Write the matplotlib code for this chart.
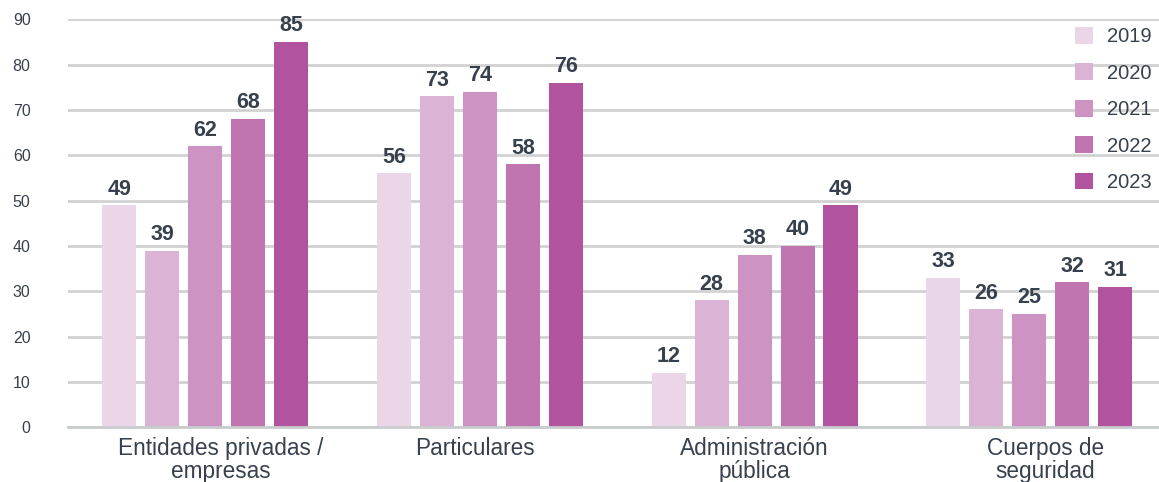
import matplotlib.pyplot as plt
import matplotlib.transforms as mtransforms
import numpy as np

plt.rcParams['font.family'] = ['Liberation Sans', 'DejaVu Sans']

categories = ['Entidades privadas /\nempresas', 'Particulares',
              'Administración\npública', 'Cuerpos de\nseguridad']
years = ['2019', '2020', '2021', '2022', '2023']
v2019 = [49, 56, 12, 33]
v2020 = [39, 73, 28, 26]
v2021 = [62, 74, 38, 25]
v2022 = [68, 58, 40, 32]
v2023 = [85, 76, 49, 31]
yticks = [0, 10, 20, 30, 40, 50, 60, 70, 80, 90]

colors = ['#ebd6e7', '#dbb4d5', '#cd93c3', '#c075b0', '#b1539f']
text_col = '#36414d'

series = [v2019, v2020, v2021, v2022, v2023]

fig = plt.figure(figsize=(11.59, 4.82), dpi=100)
ax = fig.add_axes([68 / 1159, 1 - 427.3 / 482, 1098.5 / 1159, 408 / 482])

x = np.arange(len(categories))
pitch = 0.1565
width = 0.124
for i, (yr, vals) in enumerate(zip(years, series)):
    pos = x + (i - 2) * pitch
    bars = ax.bar(pos, vals, width, color=colors[i], label=yr, zorder=3)
    for b, v in zip(bars, vals):
        ax.annotate(str(v), (b.get_x() + b.get_width() / 2, v),
                    xytext=(0, 4), textcoords='offset points',
                    ha='center', va='bottom', fontsize=15.5,
                    fontweight='bold', color=text_col, zorder=4)

ax.set_xlim(-0.5, len(categories) - 0.5)
ax.set_ylim(0, 90)
ax.set_yticks(yticks)
ax.set_xticks(x)
ax.set_xticklabels(categories, fontsize=16.3, color=text_col, linespacing=1.0)
ax.tick_params(axis='x', length=0, pad=7)
ax.tick_params(axis='y', length=0, pad=27, labelsize=11.5, labelcolor=text_col)
for lab in ax.get_yticklabels():
    lab.set_horizontalalignment('right')

# category labels sit a little off their group centres
shifts = [15, -5, 0, 16]
for lab, dx in zip(ax.get_xticklabels(), shifts):
    lab.set_transform(lab.get_transform() +
                      mtransforms.ScaledTranslation(dx / 100, 0, fig.dpi_scale_trans))

ax.grid(axis='y', color='#d2d2d2', linewidth=2, zorder=0)
for s in ['top', 'right', 'left']:
    ax.spines[s].set_visible(False)
ax.spines['bottom'].set_color('#c8cccc')
ax.spines['bottom'].set_linewidth(2)
ax.spines['bottom'].set_zorder(5)

ax.legend(loc='upper left', bbox_to_anchor=(1075 / 1159, 1 - 27 / 482),
          bbox_transform=fig.transFigure, frameon=False, fontsize=14.5,
          handlelength=0.9, handleheight=0.9, handletextpad=0.7,
          labelspacing=0.85, borderpad=0, borderaxespad=0,
          labelcolor=text_col)

fig.savefig('out.png', dpi=100)
